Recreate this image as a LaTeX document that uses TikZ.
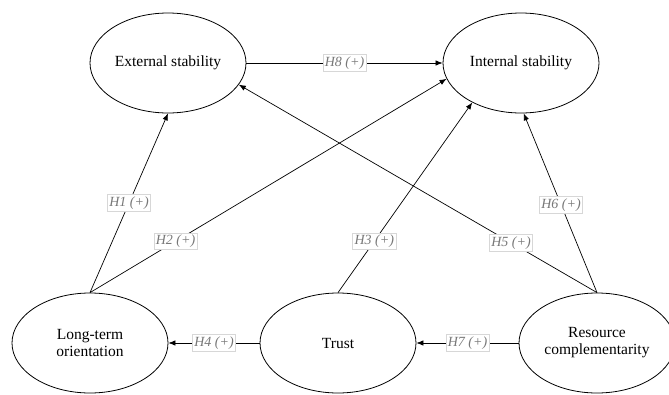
\documentclass[tikz,border=0pt]{standalone}
\usepackage{fontspec}
\setmainfont{Liberation Serif}
\usetikzlibrary{arrows.meta,shapes.geometric}
\definecolor{lblgray}{RGB}{120,120,120}
\definecolor{boxgray}{RGB}{215,215,215}
\tikzset{
  construct/.style={draw=black, line width=0.8pt, ellipse, minimum width=156pt, minimum height=100pt, inner sep=0pt, align=center, font=\fontsize{15.5}{17}\selectfont},
  path/.style={draw=black, line width=0.7pt, -{Latex[length=7pt,width=5.5pt]}},
  hyp/.style={draw=boxgray, line width=0.5pt, fill=white, text=lblgray, font=\fontsize{14}{15}\selectfont\itshape, inner sep=2pt}
}
\begin{document}
\begin{tikzpicture}[x=1pt,y=-1pt]
\useasboundingbox[fill=white] (0,0) rectangle (669,394);
\node[construct] (ext) at (168,63) {External stability};
\node[construct] (int) at (521,63) {Internal stability};
\node[construct] (lto) at (90,343) {Long-term\\orientation};
\node[construct] (tru) at (338,343) {Trust};
\node[construct] (res) at (597,343) {Resource\\complementarity};
\draw[path] (ext) -- node[hyp] {H8 (+)} (int.west);
\draw[path] (lto.north) -- node[hyp, pos=0.5] {H1 (+)} (ext.south);
\draw[path] (lto.north) -- node[hyp, pos=0.24] {H2 (+)} (int.192);
\draw[path] (tru.north) -- node[hyp, pos=0.27] {H3 (+)} (int.219);
\draw[path] (res.north) -- node[hyp, pos=0.24] {H5 (+)} (ext.-17);
\draw[path] (res.north) -- node[hyp, pos=0.49] {H6 (+)} (int.273);
\draw[path] (tru.west) -- node[hyp] {H4 (+)} (lto.east);
\draw[path] (res.west) -- node[hyp] {H7 (+)} (tru.east);
\end{tikzpicture}
\end{document}
